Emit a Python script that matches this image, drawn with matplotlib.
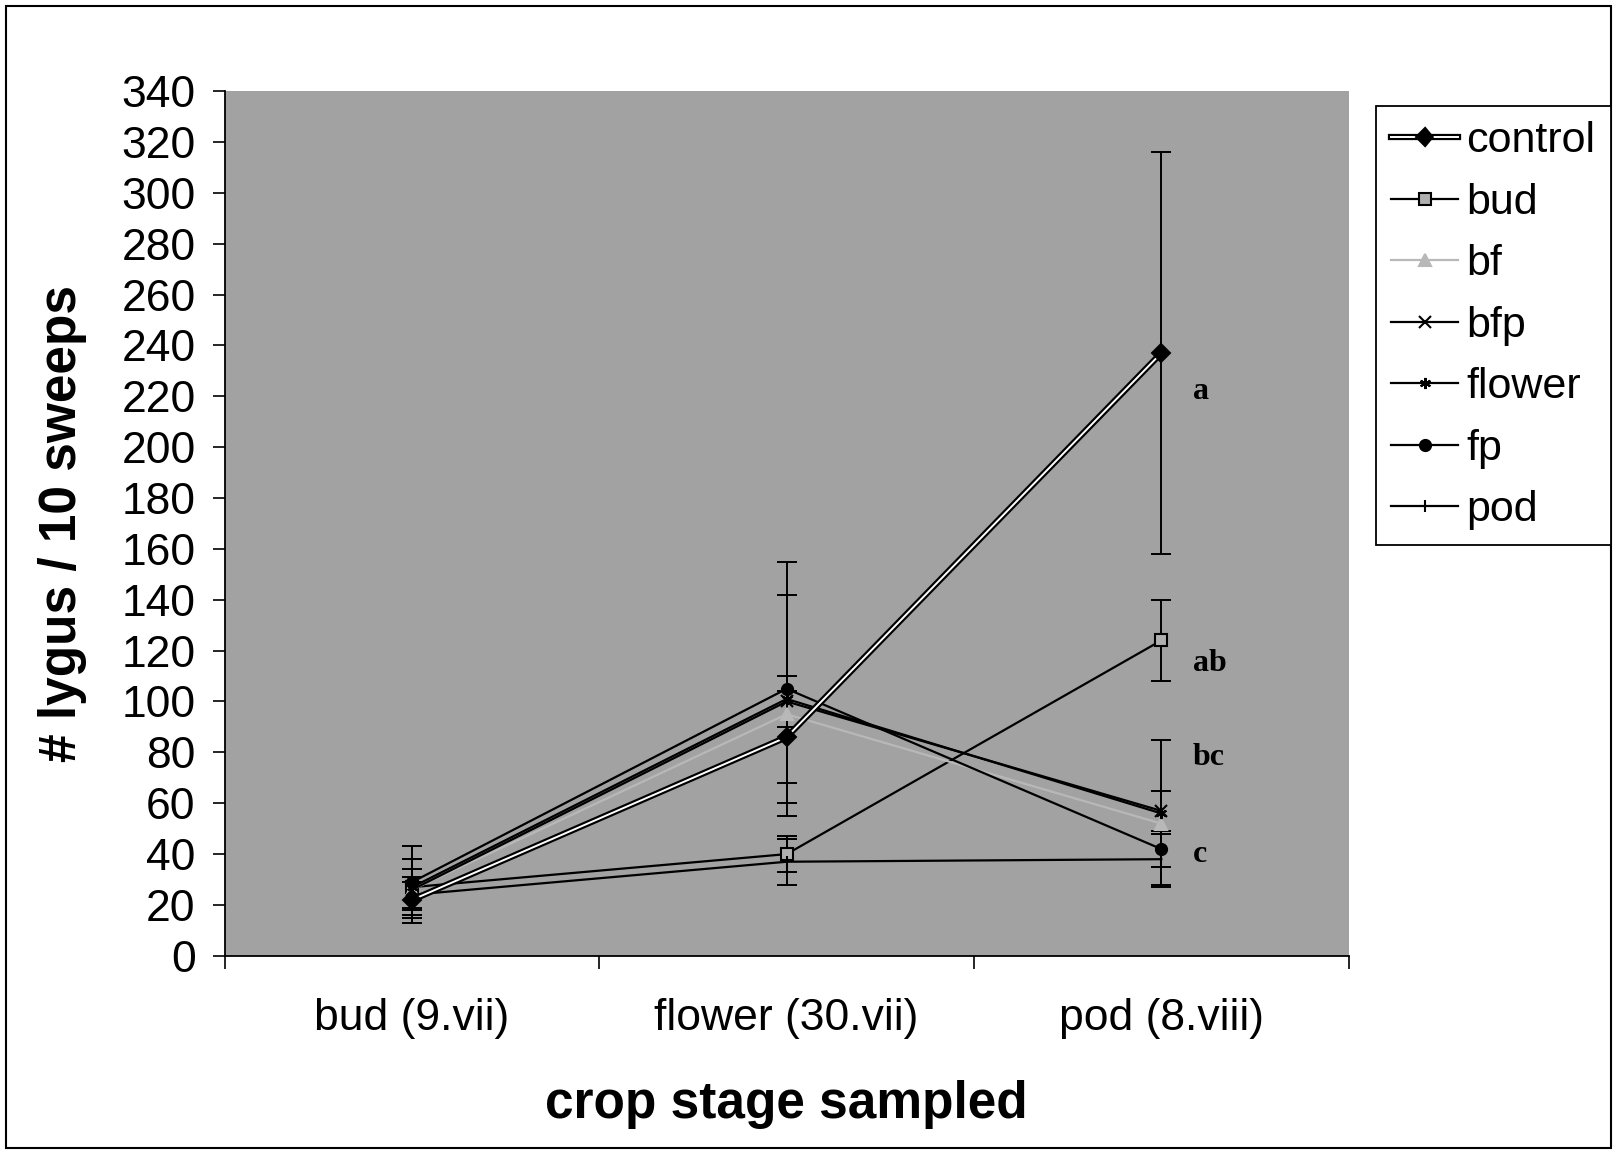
import numpy as np
import matplotlib.pyplot as plt
import matplotlib.patheffects as pe
from matplotlib.patches import Rectangle

plt.rcParams['font.family'] = ['Liberation Sans', 'DejaVu Sans']

# стадии и значения
stages = ['bud (9.vii)', 'flower (30.vii)', 'pod (8.viii)']
control = [22, 86, 237]
bud = [27, 40, 124]
bf = [26, 95, 52]
bfp = [26, 100, 57]
flower = [27, 101, 56]
fp = [29, 105, 42]
pod = [24, 37, 38]

control_err = [9, 18, 79]
bud_err = [11, 7, 16]
bf_err = [0, 0, 0]
bfp_err = [8, 10, 8]
flower_err = [11, 41, 29]
fp_err = [14, 50, 7]
pod_err = [5, 9, 10]

letters = ['a', 'ab', 'bc', 'c']
letter_y = [222, 115, 78, 40]

fig = plt.figure(figsize=(16.17, 11.53), dpi=100)
ax = fig.add_axes([0.139, 0.171, 0.695, 0.750])
ax.set_facecolor('#a2a2a2')

x = np.arange(len(stages))

series = [
    ('control', control, control_err, 'D', 'black', 'black'),
    ('bud', bud, bud_err, 's', 'black', '#b0b0b0'),
    ('bf', bf, bf_err, '^', '#b8b8b8', '#b8b8b8'),
    ('bfp', bfp, bfp_err, 'x', 'black', 'black'),
    ('flower', flower, flower_err, (6, 2, 0), 'black', 'black'),
    ('fp', fp, fp_err, 'o', 'black', 'black'),
    ('pod', pod, pod_err, '|', 'black', 'black'),
]

for name, vals, err, m, col, mfc in series:
    if name != 'bf':
        ax.errorbar(x, vals, yerr=err, fmt='none', ecolor='black',
                    elinewidth=1.4, capsize=7, capthick=1.4, zorder=2)
    if name == 'control':
        ax.plot(x, vals, color='white', lw=1.4, marker=m, ms=6,
                mfc=mfc, mec=col, label=name, zorder=4,
                path_effects=[pe.Stroke(linewidth=4.5, foreground='black'), pe.Normal()])
    else:
        ax.plot(x, vals, color=col, lw=1.6, marker=m, ms=8,
                mfc=mfc, mec=col, mew=1.5, label=name, zorder=3)

for t, yv in zip(letters, letter_y):
    ax.text(2.085, yv, t, fontsize=23, fontweight='bold',
            family=['Liberation Serif', 'DejaVu Serif'], va='center', ha='left', zorder=5)

ax.set_xlim(-0.5, 2.5)
ax.set_ylim(0, 340)
ax.set_yticks(np.arange(0, 341, 20))
ax.set_xticks(x)
ax.set_xticklabels(stages)
ax.set_xticks([-0.5, 0.5, 1.5, 2.5], minor=True)
ax.tick_params(axis='x', which='major', length=0, pad=30, labelsize=32)
ax.tick_params(axis='x', which='minor', length=9, width=1.2, direction='out')
ax.tick_params(axis='y', length=9, width=1.2, pad=12, labelsize=32)

for s in ['top', 'right']:
    ax.spines[s].set_visible(False)
for s in ['left', 'bottom']:
    ax.spines[s].set_linewidth(1.3)

ax.set_ylabel('# lygus / 10 sweeps', fontsize=37, fontweight='bold', labelpad=25)
ax.set_xlabel('crop stage sampled', fontsize=37, fontweight='bold', labelpad=30)

leg = fig.legend(loc='upper left', bbox_to_anchor=(0.851, 0.908), fontsize=31,
                 frameon=True, fancybox=False, edgecolor='black', framealpha=1,
                 borderaxespad=0, handlelength=1.55, handletextpad=0.2,
                 borderpad=0.35, labelspacing=0.5)
leg.get_frame().set_linewidth(1.3)

fig.patches.append(Rectangle((0.004, 0.004), 0.992, 0.991, transform=fig.transFigure,
                             fill=False, edgecolor='black', lw=1.5))

fig.savefig('out.png', dpi=100)
